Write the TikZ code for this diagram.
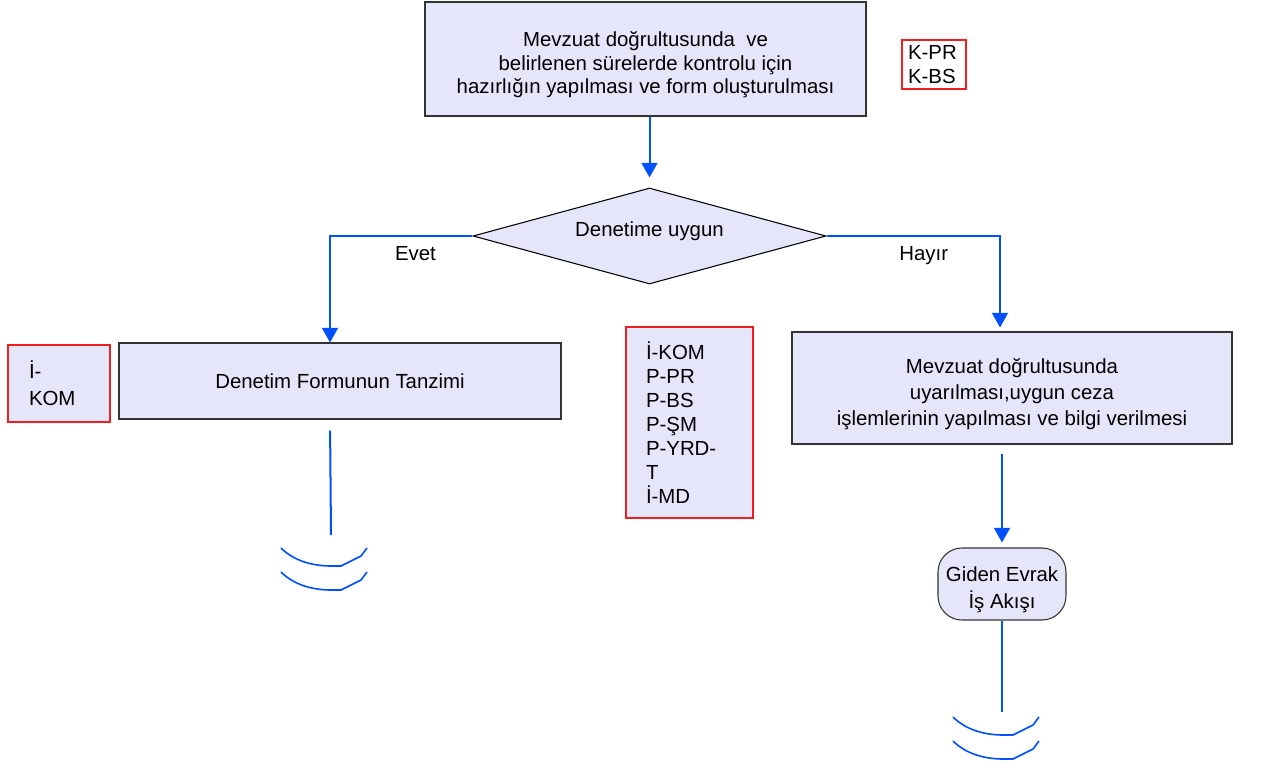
\documentclass[tikz,border=0pt]{standalone}
\usepackage{fontspec}
\setmainfont{Liberation Sans}
\usetikzlibrary{shapes.geometric,arrows.meta}
\definecolor{boxfill}{RGB}{230,230,250}
\definecolor{flowblue}{RGB}{0,80,255}
\definecolor{tagred}{RGB}{240,30,30}

\begin{document}
\begin{tikzpicture}[x=0.75pt,y=-0.75pt,
	font=\fontsize{15.3}{17.5}\selectfont,
	stepbox/.style={draw=black!80,line width=0.8pt,fill=boxfill,align=center,inner sep=0pt},
	tagbox/.style={draw=tagred,line width=0.8pt,align=left,inner ysep=0pt},
	flow/.style={draw=flowblue,line width=1.5pt},
	flowarrow/.style={flow,-{Triangle[width=12pt,length=11pt]}},
	endarc/.style={draw=flowblue,line width=1.2pt}]
	\useasboundingbox (0,0) rectangle (1279,764);
	\node[stepbox,minimum width=330.75pt,minimum height=85.5pt] (prep) at (645.5,59) {\rule{0pt}{20pt}Mevzuat doğrultusunda\ \ ve\\ belirlenen sürelerde kontrolu için\\ hazırlığın yapılması ve form oluşturulması};
	\node[tagbox,fill=white,minimum width=48pt,minimum height=36.75pt,inner xsep=4.5pt,text width=39pt] (kpr) at (934,64.5) {K-PR\\K-BS};
	\node[diamond,draw=black,line width=0.8pt,fill=boxfill,aspect=3.7,minimum width=264.75pt,minimum height=72pt,inner sep=0pt] (uygun) at (649.5,236) {\raisebox{10pt}{Denetime uygun}};
	\node[stepbox,minimum width=331.5pt,minimum height=57pt] (form) at (340,381) {Denetim Formunun Tanzimi};
	\node[tagbox,fill=boxfill,minimum width=76.5pt,minimum height=57.75pt,inner xsep=15.75pt,text width=45pt,font=\fontsize{15.3}{20}\selectfont] (ikom) at (59,383.5) {İ-\\KOM};
	\node[tagbox,fill=boxfill,minimum width=95.25pt,minimum height=143.25pt,inner xsep=15pt,text width=65.25pt,font=\fontsize{15.3}{18}\selectfont] (yetki) at (689.5,422.5) {İ-KOM\\P-PR\\P-BS\\P-ŞM\\P-YRD-\\T\\İ-MD};
	\node[stepbox,minimum width=330pt,minimum height=84pt,font=\fontsize{15.3}{19.5}\selectfont] (ceza) at (1012,388) {\rule{0pt}{21pt}Mevzuat doğrultusunda\\ uyarılması,uygun ceza\\ işlemlerinin yapılması ve bilgi verilmesi};
	\node[stepbox,rounded corners=18pt,minimum width=96pt,minimum height=54pt,font=\fontsize{15.3}{20}\selectfont] (evrak) at (1002,584) {\rule{0pt}{20pt}Giden Evrak\\ İş Akışı};
	\coordinate (formend) at (331,535);
	\coordinate (evrakend) at (1002,712);

	\draw[flowarrow,shorten >=7.5pt] (uygun.north |- prep.south) -- (uygun.north);
	\draw[flowarrow] (uygun.west) -| ([xshift=-7.5pt]form.north) node[pos=0.2,below=4pt,text=black] {Evet};
	\draw[flowarrow,shorten >=3pt] (uygun.east) -| ([xshift=-9pt]ceza.north) node[pos=0.28,below=4pt,text=black] {Hayır};
	\draw[flowarrow,shorten <=6.75pt,shorten >=3.75pt] (evrak.north |- ceza.south) -- (evrak.north);
	\draw[flow,shorten <=8.25pt] ([xshift=-7.5pt]form.south) -- (formend);
	\draw[flow] (evrak.south) -- (evrakend);

	\foreach \ax/\ay in {281/548,281/572,953/717,953/741}
		\draw[endarc,shift={(\ax,\ay)}] (0,0) .. controls (12,12) and (30,18) .. (50,18) -- (60,18) -- (80,8) -- (86,0);
\end{tikzpicture}
\end{document}
